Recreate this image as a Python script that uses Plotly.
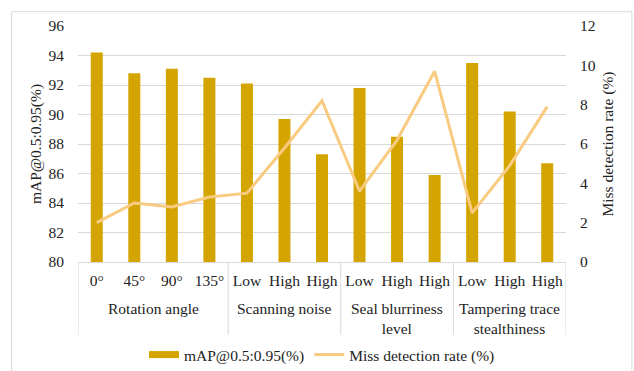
import plotly.graph_objects as go

# Test conditions grouped by perturbation type
group_names = ["Rotation angle", "Scanning noise",
               "Seal blurriness<br>level", "Tampering trace<br>stealthiness"]
group_sizes = [4, 3, 3, 3]
levels = ["0°", "45°", "90°", "135°",
          "Low", "High", "High",
          "Low", "High", "High",
          "Low", "High", "High"]

map_values = [94.2, 92.8, 93.1, 92.5,
              92.1, 89.7, 87.3,
              91.8, 88.5, 85.9,
              93.5, 90.2, 86.7]
miss_rate = [2.0, 3.0, 2.8, 3.3,
             3.5, 5.8, 8.2,
             3.6, 6.2, 9.7,
             2.5, 4.9, 7.9]

font_family = "Liberation Serif"
fs = 15.5
grid_color = "#D9D9D9"
text_color = "#222222"
bar_color = "#D4A500"
line_color = "#F8CB80"

# unique category keys (group + level + position) so repeated level names stay separate
groups = [g for g, n in zip(group_names, group_sizes) for _ in range(n)]
keys = [f"{g}|{lv}|{i}" for i, (g, lv) in enumerate(zip(groups, levels))]

fig = go.Figure()
fig.add_trace(go.Bar(
    x=keys, y=map_values, name="mAP@0.5:0.95(%)", legendgroup="map",
    showlegend=False,
    marker=dict(color=bar_color, line=dict(width=0)), width=0.32,
))
# legend entry for the bars: a short, wide swatch
fig.add_trace(go.Scatter(
    x=[None], y=[None], name="mAP@0.5:0.95(%)", legendgroup="map",
    mode="lines", line=dict(color=bar_color, width=7),
))
fig.add_trace(go.Scatter(
    x=keys, y=miss_rate, name="Miss detection rate (%)",
    mode="lines", line=dict(color=line_color, width=3), yaxis="y2",
))

# group labels under the level labels, and the divider lines boxing each group
annotations = []
shapes = []
start = 0
bounds = [-0.5]
for name, n in zip(group_names, group_sizes):
    center = start + (n - 1) / 2
    annotations.append(dict(
        x=center, xref="x", y=0, yref="paper", yanchor="top", yshift=-36,
        text=name, showarrow=False, font=dict(size=fs, color=text_color),
    ))
    start += n
    bounds.append(start - 0.5)
for b in bounds:
    shapes.append(dict(type="line", xref="x", yref="paper", x0=b, x1=b,
                       y0=0, y1=-0.309, line=dict(color=grid_color, width=1)))

# outer chart frame
shapes.append(dict(type="rect", xref="paper", yref="paper",
                   x0=-0.136, x1=1.135, y0=-0.6, y1=1.0606,
                   line=dict(color=grid_color, width=1), fillcolor="rgba(0,0,0,0)",
                   layer="below"))

fig.update_layout(
    width=634, height=371,
    margin=dict(l=78, r=68, t=26, b=109),
    paper_bgcolor="white", plot_bgcolor="white",
    font=dict(family=font_family, size=fs, color=text_color),
    showlegend=True,
    legend=dict(orientation="h", x=0.5, xanchor="center",
                y=1 - 355 / 371, yref="container", yanchor="middle",
                font=dict(size=fs), itemwidth=30, traceorder="normal",
                tracegroupgap=0),
    xaxis=dict(
        type="category", showline=True, linecolor=grid_color, linewidth=1,
        tickmode="array", tickvals=keys, ticktext=levels,
        tickfont=dict(size=fs), ticks="outside", ticklen=4,
        tickcolor="rgba(0,0,0,0)", tickangle=0, automargin=False,
        range=[-0.5, len(keys) - 0.5],
    ),
    yaxis=dict(
        range=[80, 96], dtick=2, showgrid=True, gridcolor=grid_color, gridwidth=1,
        zeroline=False, ticks="outside", ticklen=10, tickcolor="rgba(0,0,0,0)",
        automargin=False,
        title=dict(text="mAP@0.5:0.95(%)", font=dict(size=fs), standoff=2),
    ),
    yaxis2=dict(
        range=[0, 12], dtick=2, overlaying="y", side="right", showgrid=False,
        zeroline=False, ticks="outside", ticklen=10, tickcolor="rgba(0,0,0,0)",
        automargin=False,
        title=dict(text="Miss detection rate (%)", font=dict(size=fs), standoff=7),
    ),
    annotations=annotations,
    shapes=shapes,
)

fig.write_html("out.html")
